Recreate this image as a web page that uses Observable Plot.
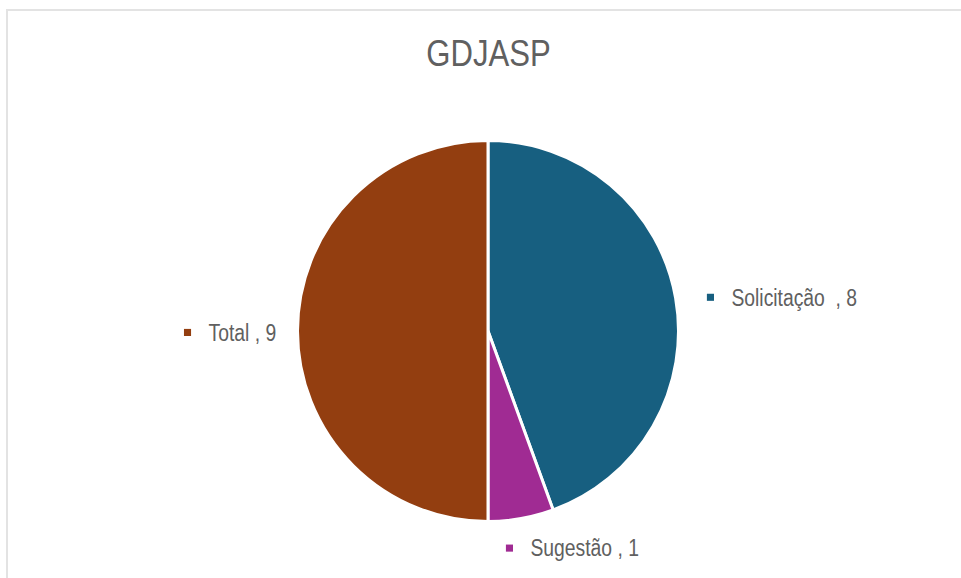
<!DOCTYPE html>
<html>
<head>
<meta charset="utf-8">
<script src="https://cdn.jsdelivr.net/npm/d3@7"></script>
<script src="https://cdn.jsdelivr.net/npm/@observablehq/plot@0.6"></script>
<style>
  html, body { margin: 0; padding: 0; background: #fff; overflow: hidden; }
  #wrap { position: relative; width: 961px; height: 578px; }
  #frame { position: absolute; left: 6px; top: 9px; width: 1000px; height: 700px;
           border-left: 2px solid #e3e3e3; border-top: 2px solid #e3e3e3; }
  #chart { position: absolute; left: 0; top: 0; }
</style>
</head>
<body>
<div id="wrap"><div id="frame"></div><div id="chart"></div></div>
<script>
const title = "GDJASP";
const categories = ["Solicitação ", "Sugestão", "Total"];
const values = [8, 1, 9];
const colors = ["#175f80", "#a02b93", "#933e10"];

const pie = d3.pie().sort(null).value(d => d.value)(
  categories.map((c, i) => ({category: c, value: values[i], color: colors[i]}))
);
const slices = pie.map(p => ({...p.data, startAngle: p.startAngle, endAngle: p.endAngle,
  mid: (p.startAngle + p.endAngle) / 2}));

// label anchors (data units, pie radius = 1), Excel "best fit" style
const labelPos = {
  "Solicitação ": [1.165, 0.18],
  "Sugestão": [0.11, -1.14],
  "Total": [-1.58, -0.005]
};
const labels = slices.map(s => ({...s, lx: labelPos[s.category][0], ly: labelPos[s.category][1]}));

const pieMark = (index, scales) => {
  const cx = scales.x(0), cy = scales.y(0);
  const r = scales.x(1) - scales.x(0);
  const arc = d3.arc().innerRadius(0).outerRadius(r);
  const g = d3.create("svg:g").attr("transform", `translate(${cx},${cy})`);
  g.selectAll("path").data(slices).join("path")
    .attr("d", d => arc(d))
    .attr("fill", d => d.color)
    .attr("stroke", "#fff")
    .attr("stroke-width", 3)
    .attr("stroke-linejoin", "round");
  return g.node();
};

const fontFam = "'Liberation Sans', Arial, sans-serif";

const chart = Plot.plot({
  width: 961,
  height: 578,
  margin: 0,
  style: {background: "transparent", fontFamily: fontFam},
  x: {domain: [-1, 1], range: [297.5, 678.5], axis: null},
  y: {domain: [-1, 1], range: [521, 141], axis: null},
  marks: [
    pieMark,
    Plot.text([title], {x: 0, y: 1.46, text: d => d, fontSize: 37, fill: "#606060",
      textAnchor: "middle", lineAnchor: "middle", fontFamily: fontFam}),
    Plot.dot(labels, {x: "lx", y: "ly", symbol: "square", r: 4, fill: "color", stroke: null}),
    Plot.text(labels, {x: "lx", y: "ly", text: d => `${d.category} , ${d.value}`,
      textAnchor: "start", dx: 21, dy: 1, fontSize: 23, fill: "#606060",
      lineAnchor: "middle", fontFamily: fontFam})
  ]
});
document.getElementById("chart").appendChild(chart);
// condense text to mimic a narrow typeface
d3.select(chart).selectAll("text").each(function() {
  const len = this.getComputedTextLength();
  if (len > 0) {
    const isTitle = this.textContent === title;
    this.setAttribute("textLength", len * (isTitle ? 0.84 : 0.84));
    this.setAttribute("lengthAdjust", "spacingAndGlyphs");
  }
});
</script>
</body>
</html>
